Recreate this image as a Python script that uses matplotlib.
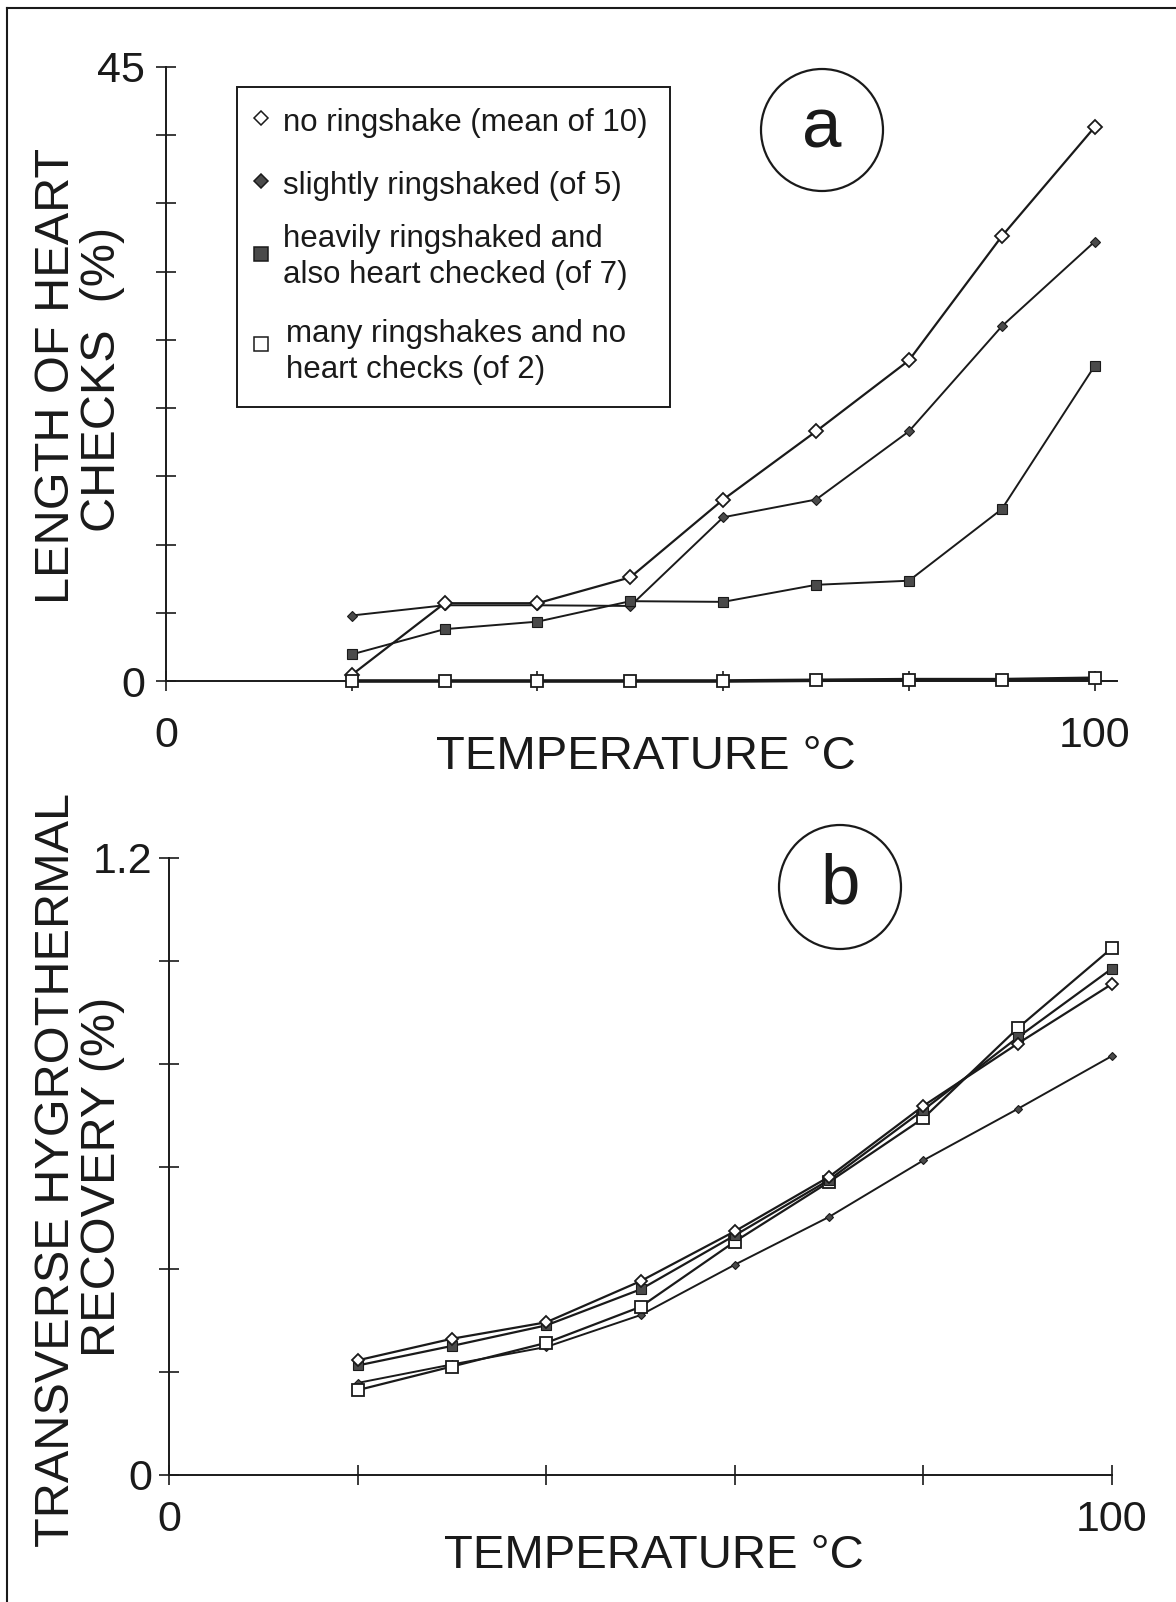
import matplotlib
matplotlib.use("Agg")
import matplotlib.pyplot as plt
from matplotlib.lines import Line2D
from matplotlib.patches import Ellipse

plt.rcParams["font.family"] = ["Liberation Sans", "DejaVu Sans"]

W, H = 1176, 1602
INK = "#1a1a1a"
FILL = "#4a4a4a"

# temperature steps (deg C)
temps = [20, 30, 40, 50, 60, 70, 80, 90, 100]

# (a) length of heart checks (%)
a_none = [0.45, 5.7, 5.7, 7.6, 13.3, 18.3, 23.5, 32.6, 40.6]
a_slight = [4.8, 5.55, 5.55, 5.5, 12.0, 13.3, 18.3, 26.0, 32.2]
a_heavy = [1.95, 3.8, 4.35, 5.85, 5.8, 7.05, 7.35, 12.6, 23.1]
a_many = [0.0, 0.0, 0.0, 0.0, 0.0, 0.05, 0.1, 0.1, 0.2]

# (b) transverse hygrothermal recovery (%)
b_none = [0.223, 0.265, 0.297, 0.377, 0.474, 0.58, 0.718, 0.839, 0.955]
b_slight = [0.179, 0.215, 0.249, 0.311, 0.409, 0.502, 0.612, 0.712, 0.815]
b_heavy = [0.213, 0.251, 0.291, 0.361, 0.466, 0.574, 0.71, 0.851, 0.985]
b_many = [0.165, 0.211, 0.257, 0.327, 0.454, 0.57, 0.694, 0.869, 1.025]

legend_labels = [
    "no ringshake (mean of 10)",
    "slightly ringshaked (of 5)",
    "heavily ringshaked and\nalso heart checked (of 7)",
    "many ringshakes and no\nheart checks (of 2)",
]


def fx(x):
    return x / W


def fy(y):
    return 1 - y / H


def style_axes(ax, pad_x, pad_y):
    for s in ["top", "right"]:
        ax.spines[s].set_visible(False)
    for s in ["left", "bottom"]:
        ax.spines[s].set_linewidth(1.4)
        ax.spines[s].set_color(INK)
    ax.tick_params(direction="inout", length=14, width=1.2, colors=INK,
                   labelsize=31, labelcolor=INK)
    ax.tick_params(axis="x", pad=pad_x)
    ax.tick_params(axis="y", pad=pad_y)


fig = plt.figure(figsize=(W / 100, H / 100), dpi=100)

# ---- panel a
ax1 = fig.add_axes([fx(166), fy(681), (1117 - 166) / W, (681 - 67) / H])
ax1.set_xlim(0, 102.4)
ax1.set_ylim(0, 45)
ax1.plot(temps, a_slight, color=INK, lw=1.4, marker="D", ms=5.4,
         mfc=FILL, mec=INK, mew=0.8, zorder=3)
ax1.plot(temps, a_heavy, color=INK, lw=1.4, marker="s", ms=7.4,
         mfc=FILL, mec=INK, mew=0.8, zorder=3)
ax1.plot(temps, a_none, color=INK, lw=1.6, marker="D", ms=7.4,
         mfc="white", mec=INK, mew=1.3, zorder=4)
ax1.plot(temps, a_many, color=INK, lw=2.6, marker="s", ms=8.2,
         mfc="white", mec=INK, mew=1.3, zorder=5, clip_on=False)
ax1.set_xticks([0, 20, 40, 60, 80, 100])
ax1.set_xticklabels(["0", "", "", "", "", "100"])
ax1.set_yticks(range(0, 46, 5))
ax1.set_yticklabels(["0"] + [""] * 8 + ["45"])
style_axes(ax1, 18, 8)

# legend box drawn by hand
fig.add_artist(plt.Rectangle((fx(237), fy(407)), (670 - 237) / W, (407 - 87) / H,
                             transform=fig.transFigure, fill=False,
                             ec=INK, lw=1.4))
leg_marks = [("D", "white", 7.0, 118), ("D", FILL, 7.5, 181),
             ("s", FILL, 9.5, 254), ("s", "white", 9.5, 344)]
for (m, fc, ms, y) in leg_marks:
    fig.add_artist(Line2D([fx(261)], [fy(y)], transform=fig.transFigure,
                          marker=m, ms=ms, mfc=fc, mec=INK, mew=1.1, ls="none"))
leg_text = [(283, 123), (283, 186), (283, 257), (286, 352)]
for lab, (x, y) in zip(legend_labels, leg_text):
    fig.text(fx(x), fy(y), lab, ha="left", va="center", fontsize=22.5,
             color=INK, linespacing=1.3)

fig.add_artist(Ellipse((fx(822), fy(130)), 122 / W, 122 / H,
                       transform=fig.transFigure, fill=False, ec=INK, lw=1.6))
fig.text(fx(822), fy(129), "a", ha="center", va="center", fontsize=51, color=INK)

fig.text(fx(646), fy(757), "TEMPERATURE °C", ha="center", va="center",
         fontsize=34, color=INK)
fig.text(fx(57), fy(376), "LENGTH OF HEART", rotation=90, ha="center",
         va="center", fontsize=35, color=INK)
fig.text(fx(103), fy(379), "CHECKS  (%)", rotation=90, ha="center",
         va="center", fontsize=35, color=INK)

# ---- panel b
ax2 = fig.add_axes([fx(169), fy(1475), (1112 - 169) / W, (1475 - 858) / H])
ax2.set_xlim(0, 100)
ax2.set_ylim(0, 1.2)
ax2.plot(temps, b_slight, color=INK, lw=1.4, marker="D", ms=4.3,
         mfc=FILL, mec=INK, mew=0.8, zorder=3, clip_on=False)
ax2.plot(temps, b_many, color=INK, lw=1.6, marker="s", ms=8.2,
         mfc="white", mec=INK, mew=1.3, zorder=4, clip_on=False)
ax2.plot(temps, b_heavy, color=INK, lw=1.6, marker="s", ms=7.0,
         mfc=FILL, mec=INK, mew=0.8, zorder=5, clip_on=False)
ax2.plot(temps, b_none, color=INK, lw=1.6, marker="D", ms=6.2,
         mfc="white", mec=INK, mew=1.3, zorder=6, clip_on=False)
ax2.set_xticks([0, 20, 40, 60, 80, 100])
ax2.set_xticklabels(["0", "", "", "", "", "100"])
ax2.set_yticks([0, 0.2, 0.4, 0.6, 0.8, 1.0, 1.2])
ax2.set_yticklabels(["0"] + [""] * 5 + ["1.2"])
style_axes(ax2, 11, 5)

fig.add_artist(Ellipse((fx(840), fy(887)), 122 / W, 124 / H,
                       transform=fig.transFigure, fill=False, ec=INK, lw=1.6))
fig.text(fx(840), fy(886), "b", ha="center", va="center", fontsize=51, color=INK)

fig.text(fx(654), fy(1556), "TEMPERATURE °C", ha="center", va="center",
         fontsize=34, color=INK)
fig.text(fx(57), fy(1170), "TRANSVERSE HYGROTHERMAL", rotation=90, ha="center",
         va="center", fontsize=35, color=INK)
fig.text(fx(103), fy(1177), "RECOVERY (%)", rotation=90, ha="center",
         va="center", fontsize=35, color=INK)

# frame around the figure (left and top edges visible in the scan)
fig.add_artist(Line2D([fx(7), fx(7)], [fy(8), 0], transform=fig.transFigure,
                      color=INK, lw=1.5))
fig.add_artist(Line2D([fx(7), 1], [fy(8), fy(8)], transform=fig.transFigure,
                      color=INK, lw=1.5))

fig.savefig("out.png", dpi=100, facecolor="white")
